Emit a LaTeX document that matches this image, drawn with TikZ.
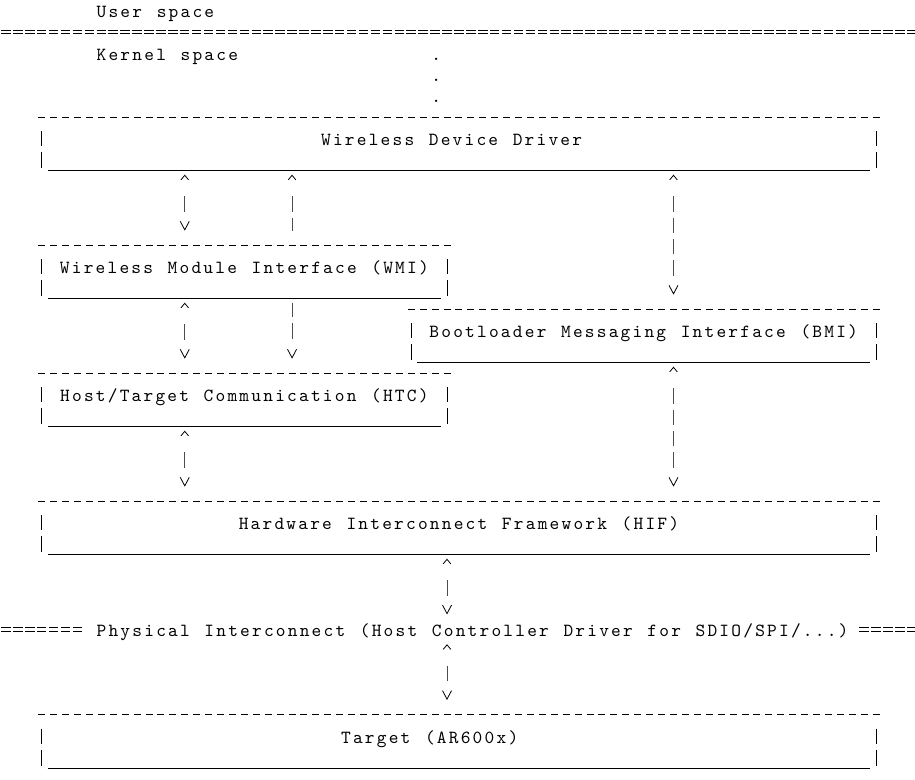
\documentclass[tikz,border=0pt]{standalone}
\usepackage{fontspec}
\usepackage{tikz}
\usetikzlibrary{arrows.meta,positioning}

\newfontfamily\lmmono{lmmono10-regular.otf}[LetterSpace=11.93,WordSpace=1.2273]
\newcommand{\asciifont}{\lmmono\fontsize{18.5pt}{21.33pt}\selectfont}

\begin{document}
\begin{tikzpicture}[x=11.92pt,y=-21.333pt,
    txt/.style={font=\asciifont,inner sep=0pt,anchor=base west,xshift=1.1pt},
    layer/.style={font=\asciifont,inner sep=0pt,outer sep=0pt,anchor=north west,
      minimum height=53.33pt,text height=10pt,text depth=6.67pt},
    topdash/.style={line width=1pt,dash pattern=on 7pt off 4.92pt},
    side/.style={line width=0.9pt,dash pattern=on 0pt off 13.83pt on 15.3pt off 6pt on 15.7pt off 20pt},
    bottom/.style={line width=1pt},
    eqsep/.style={double,double distance=2.8pt,line width=0.8pt,dash pattern=on 9.5pt off 2.42pt},
    link/.style={line width=0.9pt,draw=black!70,shorten <=4pt,shorten >=14.67pt},
    tipup/.style={{Straight Barb[length=4.5pt,width=7.5pt,line width=0.8pt,color=black]}-},
    tipdown/.style={-{Straight Barb[length=8.5pt,width=9pt,line width=0.8pt,color=black]}},
    tipboth/.style={{Straight Barb[length=4.5pt,width=7.5pt,line width=0.8pt,color=black]}-{Straight Barb[length=8.5pt,width=9pt,line width=0.8pt,color=black]}},
    onebar/.style={dash pattern=on 0pt off 20.5pt on 15.5pt off 60pt},
    twobars/.style={dash pattern=on 0pt off 20.5pt on 15.5pt off 5.83pt on 15.5pt off 60pt},
    twobarsdown/.style={dash pattern=on 14.7pt off 5.83pt on 15.5pt off 60pt},
    fourbars/.style={dash pattern=on 0pt off 20.5pt on 15.5pt off 5.83pt on 15.5pt off 5.83pt on 15.5pt off 5.83pt on 15.5pt off 60pt}]

        \useasboundingbox (0,0) rectangle (76.76,36.52);

        \coordinate (c15) at (15.5,0);
        \coordinate (c24) at (24.5,0);
        \coordinate (c37) at (37.5,0);
        \coordinate (c56) at (56.5,0);

        \node[txt] (user) at (8,0.828) {User space};
        \node[txt] (kernel) at (8,2.828) {Kernel space};
        \foreach \r in {2,3,4}
            \node[txt,anchor=base] (dot\r) at (36.5,\r+0.828) {.};

        \draw[eqsep] (0.1,1.5) -- (77,1.5);

        %############################################

        \node[layer,minimum width=70*11.92pt] (wdd) at (3.5,5.5) {Wireless Device Driver~\mbox{}};
        \node[layer,minimum width=34*11.92pt] (wmi) at (3.5,11.5) {Wireless Module Interface (WMI)};
        \node[layer,minimum width=39*11.92pt] (bmi) at (34.5,14.5) {Bootloader Messaging Interface (BMI)};
        \node[layer,minimum width=34*11.92pt] (htc) at (3.5,17.5) {Host/Target Communication (HTC)};
        \node[layer,minimum width=70*11.92pt] (hif) at (3.5,23.5) {Hardware Interconnect Framework (HIF)};
        \node[txt,text height=7pt,text depth=3.67pt] (phys) at (8,29.828) {Physical Interconnect (Host Controller Driver for SDIO/SPI/...)};
        \node[layer,minimum width=70*11.92pt] (tgt) at (3.5,33.5) {Target (AR600x)~~~~\mbox{}};

        \draw[eqsep] (0.1,29.5) -- (7,29.5);
        \draw[eqsep] (72.1,29.5) -- (77,29.5);

        \foreach \b in {wdd,wmi,bmi,htc,hif,tgt}{
            \draw[topdash] ([xshift=-3.5pt]\b.north west) -- ([xshift=3.5pt]\b.north east);
            \draw[side] (\b.north west) -- (\b.south west);
            \draw[side] (\b.north east) -- (\b.south east);
            \draw[bottom] ([xshift=5.96pt]\b.south west) -- ([xshift=-5.96pt]\b.south east);
        }

        %############################################

        \draw[link,tipboth,onebar] (wdd.south -| c15) -- (wmi.north -| c15);
        \draw[link,tipup,twobars] (wdd.south -| c24) -- (wmi.north -| c24);
        \draw[link,tipboth,fourbars] (wdd.south -| c56) -- (bmi.north -| c56);

        \draw[link,tipboth,onebar] (wmi.south -| c15) -- (htc.north -| c15);
        \draw[link,tipdown,twobarsdown] (wmi.south -| c24) -- (htc.north -| c24);

        \draw[link,tipboth,onebar] (htc.south -| c15) -- (hif.north -| c15);
        \draw[link,tipboth,fourbars] (bmi.south -| c56) -- (hif.north -| c56);

        \draw[link,tipboth,onebar] (hif.south -| c37) -- (phys.north -| c37);
        \draw[link,tipboth,onebar] (phys.south -| c37) -- (tgt.north -| c37);
    \end{tikzpicture}
\end{document}
